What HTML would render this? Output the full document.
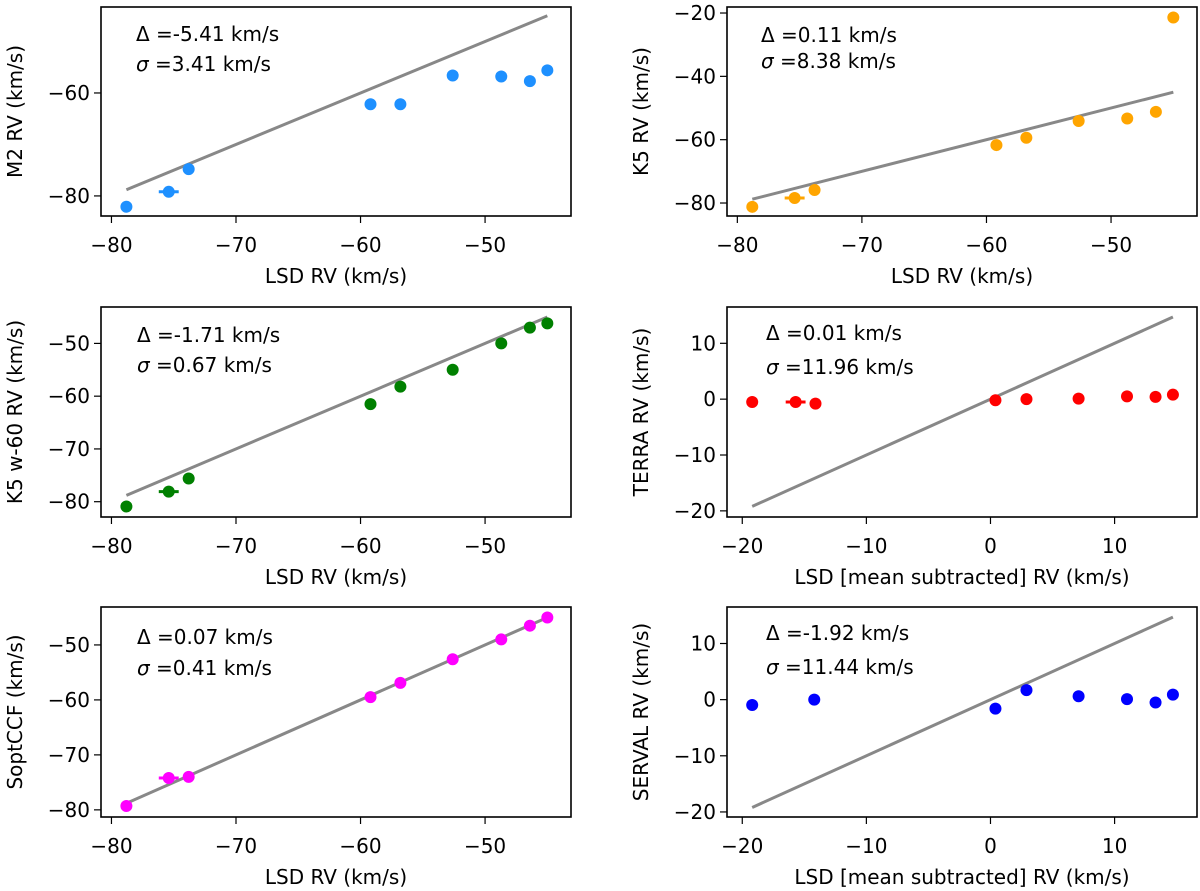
<!DOCTYPE html>
<html><head><meta charset="utf-8"><style>
html,body{margin:0;padding:0;background:#fff;}
svg{display:block;font-family:"DejaVu Sans","Liberation Sans",sans-serif;}
</style></head><body>
<svg id="fig" width="1200" height="891" viewBox="0 0 1200 891"></svg>
<script>
// ---- data ----
const lsdRV = [-78.8, -75.4, -73.8, -59.2, -56.8, -52.6, -48.7, -46.4, -45.0];
const lsdRVerr = [0, 0.8, 0, 0, 0, 0, 0, 0, 0];
const m2RV = [-82.1, -79.2, -74.8, -62.2, -62.2, -56.6, -56.8, -57.7, -55.6];
const k5RV = [-81.2, -78.4, -75.9, -61.7, -59.4, -54.1, -53.3, -51.2, -21.4];
const k5w60RV = [-80.9, -78.1, -75.6, -61.5, -58.2, -55.0, -50.0, -47.0, -46.2];
const soptRV = [-79.3, -74.2, -74.0, -59.5, -56.9, -52.6, -49.0, -46.5, -45.0];
const lsdMeanSub = [-19.2, -15.7, -14.1, 0.4, 2.9, 7.1, 11.0, 13.3, 14.7];
const lsdMeanSubErr = [0, 0.8, 0, 0, 0, 0, 0, 0, 0];
const terraRV = [-0.5, -0.5, -0.8, -0.2, 0.0, 0.1, 0.5, 0.4, 0.8];
const servalX = [-19.2, -14.2, 0.4, 2.9, 7.1, 11.0, 13.3, 14.7];
const servalRV = [-0.95, 0.0, -1.6, 1.7, 0.6, 0.1, -0.5, 0.9];
const ticksLSD = [-80, -70, -60, -50];
const ticksM2 = [-60, -80];
const ticksK5 = [-20, -40, -60, -80];
const ticksK5w = [-50, -60, -70, -80];
const ticksSopt = [-50, -60, -70, -80];
const ticksMS = [-20, -10, 0, 10];
const deltaLabels = ["Δ =-5.41 km/s","Δ =0.11 km/s","Δ =-1.71 km/s","Δ =0.01 km/s","Δ =0.07 km/s","Δ =-1.92 km/s"];
const sigmaLabels = ["σ =3.41 km/s","σ =8.38 km/s","σ =0.67 km/s","σ =11.96 km/s","σ =0.41 km/s","σ =11.44 km/s"];

const NS = "http://www.w3.org/2000/svg";
const svg = document.getElementById('fig');
function mk(tag, attrs, parent){ const e=document.createElementNS(NS,tag); for(const k in attrs) e.setAttribute(k,attrs[k]); (parent||svg).appendChild(e); return e; }
const FS = 20;

const panels = [
 {id:'m2', box:[101,7,571,216], xd:[-80.84,-43.1], yd:[-83.9,-43.3], x:lsdRV, xe:lsdRVerr, y:m2RV, col:'#1e90ff', xt:ticksLSD, yt:ticksM2, xl:'LSD RV (km/s)', yl:'M2 RV (km/s)', ylx:22, tx:136, t1:41, t2:71, k:0},
 {id:'k5', box:[727,7,1197,216], xd:[-80.83,-43.1], yd:[-84.1,-18.1], x:lsdRV, xe:lsdRVerr, y:k5RV, col:'#ffa500', xt:ticksLSD, yt:ticksK5, xl:'LSD RV (km/s)', yl:'K5 RV (km/s)', ylx:648, tx:761, t1:42, t2:68, k:1},
 {id:'k5w60', box:[101,307,571,517], xd:[-80.84,-43.1], yd:[-82.9,-43.1], x:lsdRV, xe:lsdRVerr, y:k5w60RV, col:'#008000', xt:ticksLSD, yt:ticksK5w, xl:'LSD RV (km/s)', yl:'K5 w-60 RV (km/s)', ylx:22, tx:137, t1:342, t2:372, k:2},
 {id:'terra', box:[727,307,1197,517], xd:[-21.23,16.64], yd:[-21.1,16.5], x:lsdMeanSub, xe:lsdMeanSubErr, y:terraRV, col:'#ff0000', xt:ticksMS, yt:ticksMS, xl:'LSD [mean subtracted] RV (km/s)', yl:'TERRA RV (km/s)', ylx:648, tx:766, t1:340, t2:374, k:3},
 {id:'soptccf', box:[101,607,571,817], xd:[-80.84,-43.1], yd:[-81.3,-43.1], x:lsdRV, xe:lsdRVerr, y:soptRV, col:'#ff00ff', xt:ticksLSD, yt:ticksSopt, xl:'LSD RV (km/s)', yl:'SoptCCF (km/s)', ylx:22, tx:137, t1:644, t2:675, k:4},
 {id:'serval', box:[727,607,1197,817], xd:[-21.23,16.64], yd:[-20.9,16.5], x:servalX, xe:null, y:servalRV, col:'#0000ff', xt:ticksMS, yt:ticksMS, xl:'LSD [mean subtracted] RV (km/s)', yl:'SERVAL RV (km/s)', ylx:648, tx:766, t1:640, t2:674, k:5}
];

panels.forEach(p=>{
  const [L,T,R,B]=p.box;
  const sx=v=>L+(v-p.xd[0])/(p.xd[1]-p.xd[0])*(R-L);
  const sy=v=>B-(v-p.yd[0])/(p.yd[1]-p.yd[0])*(B-T);
  const g=mk('g',{});
  
  
  const xmin=Math.min(...p.x), xmax=Math.max(...p.x);
  const ln=mk('line',{x1:sx(xmin),y1:sy(xmin),x2:sx(xmax),y2:sy(xmax),stroke:'#888','stroke-width':3},g);
  
  
  p.x.forEach((xv,i)=>{
    const yv=p.y[i];
    if(p.xe && p.xe[i]>0){
      const eb=mk('line',{x1:sx(xv-p.xe[i]),y1:sy(yv),x2:sx(xv+p.xe[i]),y2:sy(yv),stroke:p.col,'stroke-width':3},g);
      
      
    }
    const c=mk('circle',{cx:sx(xv),cy:sy(yv),r:6,fill:p.col},g);
    
    
  });
  const fr=mk('rect',{x:L,y:T,width:R-L,height:B-T,fill:'none',stroke:'#000','stroke-width':1.6},g);
  
  
  p.xt.forEach(t=>{
    const X=sx(t);
    mk('line',{x1:X,y1:B,x2:X,y2:B+7,stroke:'#000','stroke-width':1.2},g);
    const tx=mk('text',{x:X,y:B+36,'text-anchor':'middle','font-size':FS},g);
    tx.textContent=(t<0?'\u2212'+(-t):String(t));
    
    
  });
  p.yt.forEach(t=>{
    const Y=sy(t);
    mk('line',{x1:L-7,y1:Y,x2:L,y2:Y,stroke:'#000','stroke-width':1.2},g);
    const ty=mk('text',{x:L-11,y:Y+7,'text-anchor':'end','font-size':FS},g);
    ty.textContent=(t<0?'\u2212'+(-t):String(t));
    
    
  });
  const xl=mk('text',{x:(L+R)/2,y:B+67,'text-anchor':'middle','font-size':FS},g);
  xl.textContent=p.xl;
  
  
  const yl=mk('text',{x:0,y:0,'text-anchor':'middle','font-size':FS,transform:`translate(${p.ylx},${(T+B)/2}) rotate(-90)`},g);
  yl.textContent=p.yl;
  
  
  const a1=mk('text',{x:p.tx,y:p.t1,'font-size':FS},g);
  a1.textContent=deltaLabels[p.k];
  
  
  const a2=mk('text',{x:p.tx,y:p.t2,'font-size':FS},g);
  a2.innerHTML='<tspan font-style="italic">σ</tspan>'+sigmaLabels[p.k].slice(1);
  
  
});
</script>
</body></html>
